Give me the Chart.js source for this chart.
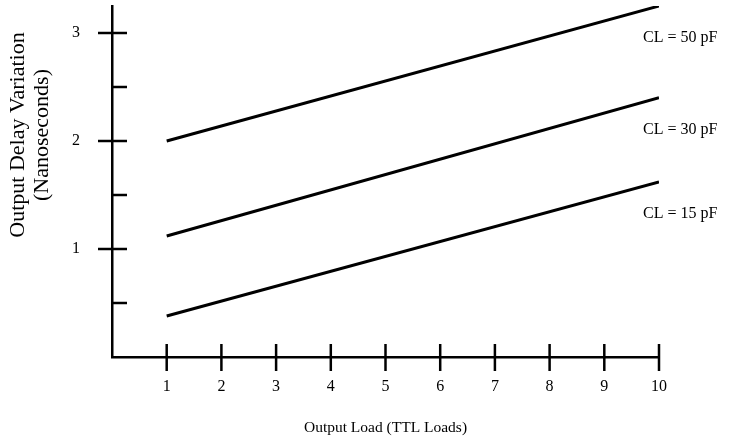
<!DOCTYPE html>
<html><head><meta charset="utf-8">
<script src="https://cdn.jsdelivr.net/npm/chart.js@4/dist/chart.umd.min.js"></script>
<style>html,body{margin:0;padding:0;background:#fff}</style>
</head><body>
<canvas id="c" width="732" height="444"></canvas>
<script>
// ---- data ----
const loads = [1, 10];                 // Output Load (TTL Loads) endpoints
const cl50 = [2.00, 3.25];             // ns
const cl30 = [1.12, 2.40];             // ns
const cl15 = [0.38, 1.62];             // ns
const seriesLabels = ['CL = 50 pF', 'CL = 30 pF', 'CL = 15 pF'];
const xTickValues = [1, 2, 3, 4, 5, 6, 7, 8, 9, 10];
const yMajorTicks = [1, 2, 3];
const yMinorTicks = [0.5, 1.5, 2.5];
const xTitle = 'Output Load (TTL Loads)';
const yTitle = ['Output Delay Variation', '(Nanoseconds)'];

const FONT = '"Liberation Serif", "Times New Roman", serif';
const toPts = (arr) => loads.map((x, i) => ({x, y: arr[i]}));

const decor = {
  id: 'decor',
  afterDraw(chart) {
    const ctx = chart.ctx, xs = chart.scales.x, ys = chart.scales.y;
    const x0 = xs.getPixelForValue(0), y0 = ys.getPixelForValue(0);
    ctx.save();
    ctx.strokeStyle = '#000';
    ctx.lineWidth = 2.5;
    ctx.lineCap = 'butt';
    yMajorTicks.forEach(v => {
      const p = ys.getPixelForValue(v);
      ctx.beginPath(); ctx.moveTo(x0 - 14, p); ctx.lineTo(x0 + 15, p); ctx.stroke();
    });
    yMinorTicks.forEach(v => {
      const p = ys.getPixelForValue(v);
      ctx.beginPath(); ctx.moveTo(x0, p); ctx.lineTo(x0 + 15, p); ctx.stroke();
    });
    xTickValues.forEach(v => {
      const p = xs.getPixelForValue(v);
      ctx.beginPath(); ctx.moveTo(p, y0 - 13); ctx.lineTo(p, y0 + 14); ctx.stroke();
    });
    ctx.fillStyle = '#000';
    ctx.font = '16px ' + FONT;
    ctx.textAlign = 'left';
    ctx.textBaseline = 'middle';
    [cl50, cl30, cl15].forEach((arr, i) => {
      const px = xs.getPixelForValue(loads[loads.length - 1]) - 16;
      const py = ys.getPixelForValue(arr[arr.length - 1]) + 32;
      ctx.fillText(seriesLabels[i], px, py);
    });
    ctx.textAlign = 'center';
    ctx.font = '15.5px ' + FONT;
    ctx.fillText(xTitle, (xs.left + xs.right) / 2, 428);
    ctx.save();
    ctx.translate(0, 135);
    ctx.rotate(-Math.PI / 2);
    ctx.font = '22px ' + FONT;
    ctx.fillText(yTitle[0], 0, 18);
    ctx.fillText(yTitle[1], 0, 42);
    ctx.restore();
    ctx.restore();
  }
};

new Chart(document.getElementById('c'), {
  type: 'scatter',
  data: {
    datasets: [
      {label: seriesLabels[0], data: toPts(cl50)},
      {label: seriesLabels[1], data: toPts(cl30)},
      {label: seriesLabels[2], data: toPts(cl15)}
    ].map(d => Object.assign(d, {
      showLine: true, borderColor: '#000', borderWidth: 3,
      pointRadius: 0, pointHoverRadius: 0, fill: false, tension: 0
    }))
  },
  options: {
    responsive: false,
    animation: false,
    devicePixelRatio: 1,
    layout: {padding: {top: 6, right: 73, bottom: 0, left: 0}},
    plugins: {legend: {display: false}, tooltip: {enabled: false}},
    scales: {
      x: {
        type: 'linear', min: 0, max: 10,
        grid: {display: false, drawTicks: false},
        border: {display: true, color: '#000', width: 2.5},
        ticks: {
          stepSize: 1, padding: 20, color: '#000',
          font: {family: FONT, size: 16},
          callback: v => (xTickValues.includes(v) ? String(v) : '')
        },
        afterFit: s => { s.height = 87; s.paddingLeft = 0; s.paddingRight = 0; }
      },
      y: {
        type: 'linear', min: 0, max: 3.25,
        grid: {display: false, drawTicks: false},
        border: {display: true, color: '#000', width: 2.5},
        ticks: {
          stepSize: 0.5, padding: 32, color: '#000',
          font: {family: FONT, size: 16},
          callback: v => (yMajorTicks.includes(v) ? String(v) : '')
        },
        afterFit: s => { s.width = 112; s.paddingTop = 0; s.paddingBottom = 0; }
      }
    }
  },
  plugins: [decor]
});
</script>
</body></html>
